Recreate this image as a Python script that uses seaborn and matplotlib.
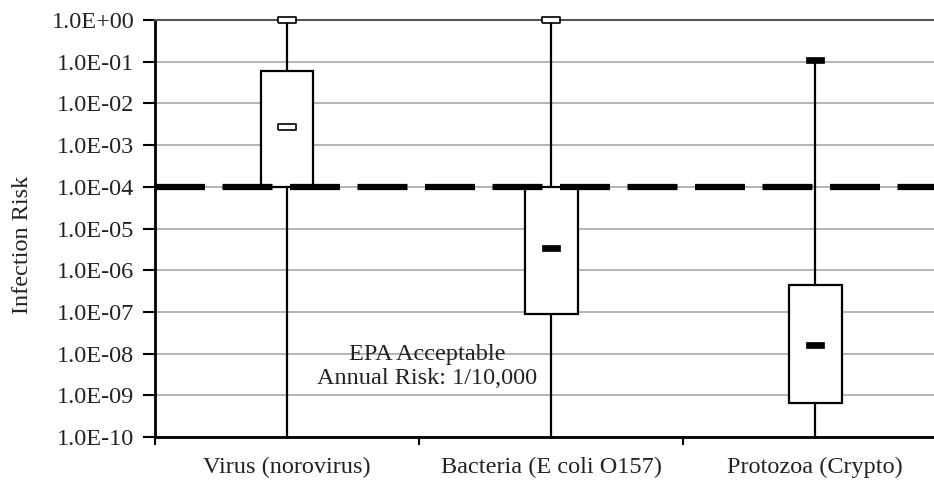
import numpy as np
import pandas as pd
import matplotlib
matplotlib.use("Agg")
import matplotlib.pyplot as plt
from matplotlib.ticker import FixedLocator, FuncFormatter, NullLocator
import seaborn as sns

# ---- data ----
categories = ["Virus (norovirus)", "Bacteria (E coli O157)", "Protozoa (Crypto)"]
whisker_low = [1e-10, 1e-10, 1e-10]
box_low = [1e-4, 9e-8, 6.6e-10]
median = [2.7e-3, 3.4e-6, 1.6e-8]
box_high = [6e-2, 1e-4, 4.5e-7]
whisker_high = [1.0, 1.0, 0.11]
threshold = 1e-4
threshold_label = "EPA Acceptable\nAnnual Risk: 1/10,000"
y_label = "Infection Risk"
y_ticks = [10.0 ** k for k in range(-10, 1)]

# marker styles: open (white) or filled (black) rectangles
median_open = [True, False, False]
max_open = [True, True, False]

# five-number data so that seaborn's quartiles equal the read values
rows = []
for i, c in enumerate(categories):
    for v in (whisker_low[i], box_low[i], median[i], box_high[i], whisker_high[i]):
        rows.append({"category": c, "risk": v})
df = pd.DataFrame(rows)

sns.set_theme(style="white")
plt.rcParams["font.family"] = ["Liberation Serif", "DejaVu Serif"]
FS = 17.5

fig = plt.figure(figsize=(9.34, 4.84), dpi=100)
ax = fig.add_axes([155 / 934, 1 - 437 / 484, 1 - 155 / 934, (437 - 20) / 484])

sns.boxplot(
    data=df, x="category", y="risk", order=categories, ax=ax,
    whis=(0, 100), width=0.2, log_scale=True, showcaps=False,
    color="white", linecolor="black", linewidth=1.6,
    medianprops={"visible": False},
    boxprops={"facecolor": "white", "zorder": 3},
    whiskerprops={"zorder": 3},
)

# rectangle marker
rect = [(-3.2, -1), (3.2, -1), (3.2, 1), (-3.2, 1), (-3.2, -1)]
pos = np.arange(len(categories))
for i in pos:
    for val, is_open in ((median[i], median_open[i]), (whisker_high[i], max_open[i])):
        ax.plot(i, val, marker=rect, markersize=12.5,
                markerfacecolor="white" if is_open else "black",
                markeredgecolor="black", markeredgewidth=1.2 if is_open else 0.5,
                linestyle="none", zorder=6, clip_on=False)

# threshold line
ax.axhline(threshold, color="black", linewidth=4.5, dashes=(8.0, 2.8), zorder=5)

ax.set_yscale("log")
ax.set_ylim(1e-10, 1.0)
ax.set_xlim(-0.5, 2.45)

ax.yaxis.set_major_locator(FixedLocator(y_ticks))
ax.yaxis.set_minor_locator(NullLocator())
ax.yaxis.set_major_formatter(FuncFormatter(lambda v, p: f"{v:.1E}"))
ax.grid(axis="y", color="#a8a8a8", linewidth=1.2, zorder=0)
ax.set_axisbelow(True)

ax.set_xticks(pos)
ax.set_xticklabels(categories)
ax.set_xticks([-0.5, 0.5, 1.5], minor=True)
ax.tick_params(axis="x", which="major", length=0, pad=14, labelsize=FS, colors="#222222")
ax.tick_params(axis="x", which="minor", length=6, width=1.5, direction="out", color="black")
ax.tick_params(axis="y", which="major", length=9, width=1.5, direction="out",
               color="black", labelsize=FS, labelcolor="#222222", pad=6)
ax.tick_params(axis="both", which="both", bottom=True, left=True)

ax.set_xlabel("")
ax.set_ylabel(y_label, fontsize=FS, color="#222222")
ax.yaxis.set_label_coords(-0.157, 0.46)

for s in ("left", "bottom"):
    ax.spines[s].set_color("black")
    ax.spines[s].set_linewidth(2)
ax.spines["top"].set_color("#555555")
ax.spines["top"].set_linewidth(1.5)
ax.spines["right"].set_visible(False)

ax.text(0.53, 5e-9, threshold_label, ha="center", va="center",
        fontsize=FS, color="#222222", linespacing=1.2, zorder=7)

fig.savefig("out.png", dpi=100)
